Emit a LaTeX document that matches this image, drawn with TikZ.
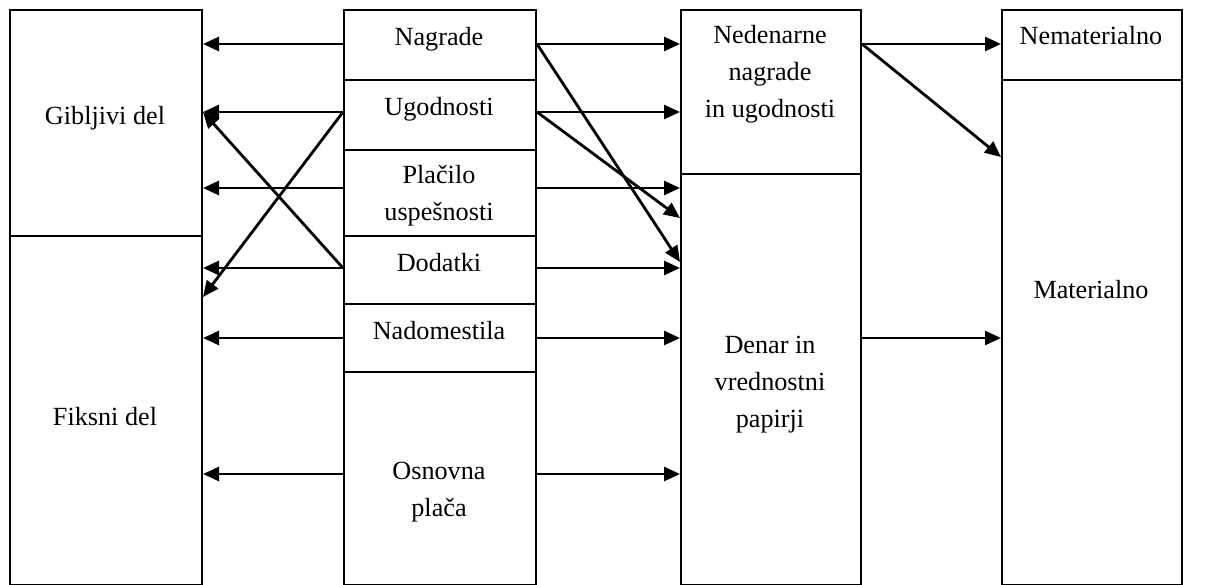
\documentclass[tikz,border=0pt]{standalone}
\usepackage{fontspec}
\setmainfont{Liberation Serif}
\usetikzlibrary{arrows.meta,calc}

% centred multi-line label whose baseline is that of its first line
\newcommand{\lines}[1]{\begin{tabular}[t]{@{}c@{}}#1\end{tabular}}

\begin{document}
\begin{tikzpicture}[x=1pt,y=-1pt,
  box/.style={draw, line width=2pt, inner sep=0pt, anchor=north west},
  lbl/.style={anchor=base, inner sep=0pt, font=\fontsize{26.2}{37}\selectfont},
  link/.style={line width=2.8pt, -{Triangle[length=16pt,width=14pt]}}]

\useasboundingbox (0,0) rectangle (1216,585);

% left column: variable and fixed part
\node[box, minimum width=192pt, minimum height=226pt] (gib) at (9,9) {};
\node[box, minimum width=192pt, minimum height=349pt] (fix) at (9,235) {};

% middle column: components of pay
\node[box, minimum width=192pt, minimum height=70pt] (nag) at (343,9) {};
\node[box, minimum width=192pt, minimum height=70pt] (ugo) at (343,79) {};
\node[box, minimum width=192pt, minimum height=86pt] (pla) at (343,149) {};
\node[box, minimum width=192pt, minimum height=68pt] (dod) at (343,235) {};
\node[box, minimum width=192pt, minimum height=68pt] (nad) at (343,303) {};
\node[box, minimum width=192pt, minimum height=213pt] (osn) at (343,371) {};

% third column: form of payment
\node[box, minimum width=180pt, minimum height=164pt] (ned) at (680,9) {};
\node[box, minimum width=180pt, minimum height=411pt] (den) at (680,173) {};

% right column
\node[box, minimum width=180pt, minimum height=70pt] (nem) at (1001,9) {};
\node[box, minimum width=180pt, minimum height=505pt] (mat) at (1001,79) {};

% labels
\node[lbl] (tgib) at (105,125) {Gibljivi del};
\node[lbl] (tfix) at (105,425) {Fiksni del};
\node[lbl] (tnag) at (439,46) {Nagrade};
\node[lbl] (tugo) at (439,116) {Ugodnosti};
\node[lbl] (tpla) at (439,184) {\lines{Plačilo\\uspešnosti}};
\node[lbl] (tdod) at (439,272) {Dodatki};
\node[lbl] (tnad) at (439,340) {Nadomestila};
\node[lbl] (tosn) at (439,479) {\lines{Osnovna\\plača}};
\node[lbl] (tned) at (770,44) {\lines{Nedenarne\\nagrade\\in ugodnosti}};
\node[lbl] (tden) at (770,354) {\lines{Denar in\\vrednostni\\papirji}};
\node[lbl] (tnem) at (1091,45) {Nematerialno};
\node[lbl] (tmat) at (1091,299) {Materialno};

% connection points on the middle column
\coordinate (nagW) at ([yshift=1pt]nag.west);
\coordinate (nagE) at ([yshift=1pt]nag.east);
\coordinate (ugoW) at ([yshift=3pt]ugo.west);
\coordinate (ugoE) at ([yshift=3pt]ugo.east);
\coordinate (plaW) at ([yshift=5pt]pla.west);
\coordinate (plaE) at ([yshift=5pt]pla.east);
\coordinate (dodW) at ([yshift=2pt]dod.west);
\coordinate (dodE) at ([yshift=2pt]dod.east);
\coordinate (nadW) at (nad.west);
\coordinate (nadE) at (nad.east);
\coordinate (osnW) at ([yshift=4.5pt]osn.west);
\coordinate (osnE) at ([yshift=4.5pt]osn.east);

% to the left column
\draw[link] (nagW) -- (nagW -| gib.east);
\draw[link] (ugoW) -- (ugoW -| gib.east);
\draw[link] (plaW) -- (plaW -| gib.east);
\draw[link] (dodW) -- (dodW -| fix.east);
\draw[link] (nadW) -- (nadW -| fix.east);
\draw[link] (osnW) -- (osnW -| fix.east);
\draw[link] (dodW) -- (ugoW -| gib.east);
\draw[link] (ugoW) -- ([yshift=-62pt]fix.north east);

% to the third column
\draw[link] (nagE) -- (nagE -| ned.west);
\draw[link] (ugoE) -- (ugoE -| ned.west);
\draw[link] (plaE) -- (plaE -| den.west);
\draw[link] (dodE) -- (dodE -| den.west);
\draw[link] (nadE) -- (nadE -| den.west);
\draw[link] (osnE) -- (osnE -| den.west);
\draw[link] (nagE) -- ([yshift=-89pt]den.north west);
\draw[link] (ugoE) -- ([yshift=-45pt]den.north west);

% to the right column
\draw[link] (nagE -| ned.east) -- (nagE -| nem.west);
\draw[link] (nagE -| ned.east) -- ([yshift=-78pt]mat.north west);
\draw[link] (nadE -| den.east) -- (nadE -| mat.west);

\end{tikzpicture}
\end{document}
